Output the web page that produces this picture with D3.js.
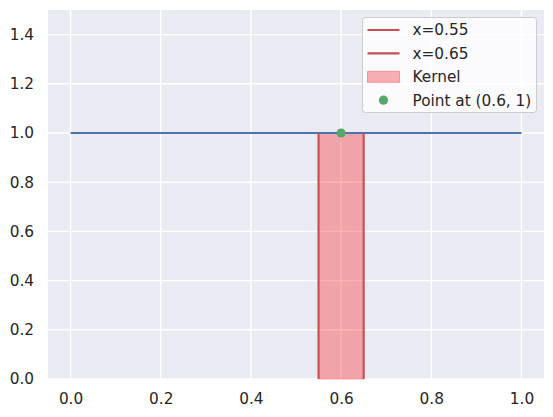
<!DOCTYPE html>
<html>
<head>
<meta charset="utf-8">
<script src="https://cdn.jsdelivr.net/npm/d3@7"></script>
<style>
  body { margin: 0; background: #fff; }
  svg text { font-family: "DejaVu Sans", sans-serif; fill: #262626; }
</style>
</head>
<body>
<div id="chart"></div>
<script>
(function () {
'use strict';

// data
const lineX = [0, 1];
const lineY = [1, 1];
const kernelEdges = [0.55, 0.65];
const kernelHeight = 1;
const point = [0.6, 1];
const xTicks = [0.0, 0.2, 0.4, 0.6, 0.8, 1.0];
const yTicks = [0.0, 0.2, 0.4, 0.6, 0.8, 1.0, 1.2, 1.4];
const legendLabels = ["x=0.55", "x=0.65", "Kernel", "Point at (0.6, 1)"];

const BLUE = "#4c72b0", RED = "#c44e52", GREEN = "#55a868";
const BG = "#eaeaf2";

const width = 553, height = 417;
const margin = {top: 10, right: 9, bottom: 38, left: 48};
const innerW = width - margin.left - margin.right;
const innerH = height - margin.top - margin.bottom;

const svg = d3.select("#chart").append("svg")
  .attr("width", width).attr("height", height);
const g = svg.append("g").attr("transform", `translate(${margin.left},${margin.top})`);

const x = d3.scaleLinear().domain([-0.05, 1.05]).range([0, innerW]);
const y = d3.scaleLinear().domain([0, 1.5]).range([innerH, 0]);

g.append("rect").attr("width", innerW).attr("height", innerH).attr("fill", BG);

// grid
g.selectAll(".gx").data(xTicks).join("line")
  .attr("x1", d => x(d)).attr("x2", d => x(d))
  .attr("y1", 0).attr("y2", innerH)
  .attr("stroke", "#fff").attr("stroke-width", 1.4);
g.selectAll(".gy").data(yTicks).join("line")
  .attr("y1", d => y(d)).attr("y2", d => y(d))
  .attr("x1", 0).attr("x2", innerW)
  .attr("stroke", "#fff").attr("stroke-width", 1.4);

// axes (labels only)
const xAxisG = g.append("g").attr("transform", `translate(0,${innerH})`)
  .call(d3.axisBottom(x).tickValues(xTicks).tickFormat(d3.format(".1f")).tickSize(0).tickPadding(14));
const yAxisG = g.append("g")
  .call(d3.axisLeft(y).tickValues(yTicks).tickFormat(d3.format(".1f")).tickSize(0).tickPadding(14));
[xAxisG, yAxisG].forEach(a => {
  a.select(".domain").remove();
  a.selectAll("text").attr("font-size", 15.3).attr("font-family", "DejaVu Sans").attr("fill", "#262626");
});

// kernel fill
g.append("rect")
  .attr("x", x(kernelEdges[0])).attr("y", y(kernelHeight))
  .attr("width", x(kernelEdges[1]) - x(kernelEdges[0]))
  .attr("height", y(0) - y(kernelHeight))
  .attr("fill", "red").attr("fill-opacity", 0.3)
  .attr("stroke", "red").attr("stroke-opacity", 0.3).attr("stroke-width", 1);

// horizontal line
const line = d3.line().x(d => x(d[0])).y(d => y(d[1]));
g.append("path").datum(d3.zip(lineX, lineY))
  .attr("d", line).attr("fill", "none").attr("stroke", BLUE).attr("stroke-width", 2.1);

// vertical red lines
g.selectAll(".vl").data(kernelEdges).join("line")
  .attr("x1", d => x(d)).attr("x2", d => x(d))
  .attr("y1", y(0)).attr("y2", y(kernelHeight))
  .attr("stroke", RED).attr("stroke-width", 2.1);

// point
g.append("circle").attr("cx", x(point[0])).attr("cy", y(point[1]))
  .attr("r", 4.6).attr("fill", GREEN);

// legend
const lg = svg.append("g").attr("transform", "translate(362.5,17.5)");
lg.append("rect").attr("width", 174).attr("height", 95).attr("rx", 3)
  .attr("fill", "#fff").attr("fill-opacity", 0.8).attr("stroke", "#cccccc").attr("stroke-width", 1);
const rowY = i => 12.5 + i * 23.4;
const hx0 = 5, hx1 = 37;
lg.append("line").attr("x1", hx0).attr("x2", hx1).attr("y1", rowY(0)).attr("y2", rowY(0))
  .attr("stroke", RED).attr("stroke-width", 2.1);
lg.append("line").attr("x1", hx0).attr("x2", hx1).attr("y1", rowY(1)).attr("y2", rowY(1))
  .attr("stroke", RED).attr("stroke-width", 2.1);
lg.append("rect").attr("x", hx0).attr("y", rowY(2) - 5.5).attr("width", hx1 - hx0).attr("height", 11)
  .attr("fill", "#ef3a44").attr("fill-opacity", 0.4).attr("stroke", "red").attr("stroke-opacity", 0.3);
lg.append("circle").attr("cx", (hx0 + hx1) / 2).attr("cy", rowY(3)).attr("r", 4.6).attr("fill", GREEN);
lg.selectAll(".lt").data(legendLabels).join("text")
  .attr("x", 50).attr("y", (d, i) => rowY(i)).attr("dy", "0.35em")
  .attr("font-size", 15.3).text(d => d);
})();
</script>
</body>
</html>
